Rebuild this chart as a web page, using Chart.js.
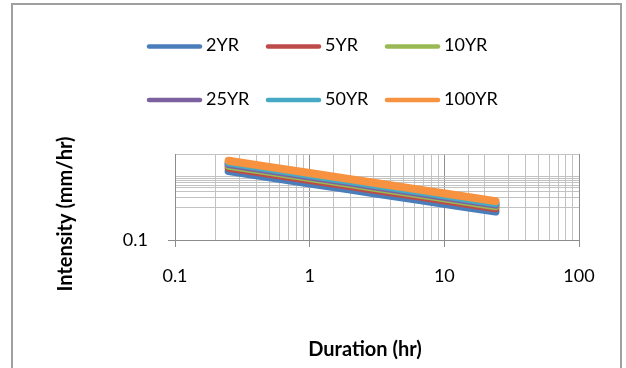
<!DOCTYPE html>
<html>
<head>
<meta charset="utf-8">
<script src="https://cdn.jsdelivr.net/npm/chart.js@4.4.1/dist/chart.umd.min.js"></script>
<style>
  html, body { margin: 0; padding: 0; background: #fff; }
  #wrap { width: 626px; height: 368px; }
</style>
</head>
<body>
<div id="wrap"><canvas id="chart" width="626" height="368"></canvas></div>
<script>
// durations (hr) and intensities (mm/hr)
const durations = [0.25, 0.5, 1, 2, 3, 6, 12, 24];
const seriesNames = ['2YR', '5YR', '10YR', '25YR', '50YR', '100YR'];
const int2yr   = [0.632, 0.536, 0.454, 0.386, 0.350, 0.297, 0.252, 0.214];
const int5yr   = [0.693, 0.588, 0.498, 0.423, 0.384, 0.326, 0.276, 0.234];
const int10yr  = [0.731, 0.620, 0.526, 0.446, 0.405, 0.344, 0.291, 0.247];
const int25yr  = [0.762, 0.646, 0.548, 0.465, 0.422, 0.358, 0.304, 0.258];
const int50yr  = [0.793, 0.672, 0.570, 0.484, 0.439, 0.373, 0.316, 0.268];
const int100yr = [0.836, 0.709, 0.601, 0.510, 0.463, 0.393, 0.333, 0.283];
const xTickLabels = [0.1, 1, 10, 100];
const yTickLabels = [0.1];
// horizontal gridlines as they appear in the original
const yGridValues = [0.1, 0.236, 0.309, 0.368, 0.403, 0.432, 0.461, 0.49, 0.517, 0.541, 1];

const allSeries = [int2yr, int5yr, int10yr, int25yr, int50yr, int100yr];
const colors = ['#4a7ebb', '#be4b48', '#98b954', '#7d60a0', '#46aac5', '#f69240'];

const FONT = 'Lato, "Open Sans", sans-serif';

const isLabelled = (list, v) => list.some(t => Math.abs(t - v) < 1e-9);

// frame, legend and axis titles
const chrome = {
  id: 'chrome',
  beforeDraw(chart) {
    const c = chart.ctx;
    c.save();
    c.fillStyle = '#fff';
    c.fillRect(0, 0, chart.width, chart.height);
    c.strokeStyle = '#a0a0a0';
    c.lineWidth = 2;
    c.strokeRect(12, 4, 609, 400);
    c.restore();
  },
  afterDraw(chart) {
    const c = chart.ctx;
    c.save();
    const colX = [147, 266, 385];
    const rowY = [46.5, 100];
    c.font = '18px ' + FONT;
    c.textBaseline = 'middle';
    c.textAlign = 'left';
    chart.data.datasets.forEach((ds, i) => {
      const x = colX[i % 3];
      const y = rowY[Math.floor(i / 3)];
      c.strokeStyle = ds.borderColor;
      c.lineWidth = 4.5;
      c.lineCap = 'round';
      c.beginPath();
      c.moveTo(x + 2, y);
      c.lineTo(x + 53, y);
      c.stroke();
      c.fillStyle = '#000';
      c.fillText(ds.label, x + 59, y - 1);
    });

    c.font = 'bold 20px ' + FONT;
    c.textAlign = 'center';
    c.fillText('Duration (hr)', 365, 350);
    c.translate(66, 214);
    c.rotate(-Math.PI / 2);
    c.fillText('Intensity (mm/hr)', 0, 0);
    c.restore();
  }
};

const ctx = document.getElementById('chart').getContext('2d');
new Chart(ctx, {
  type: 'line',
  data: {
    datasets: seriesNames.map((name, i) => ({
      label: name,
      data: durations.map((d, j) => ({ x: d, y: allSeries[i][j] })),
      borderColor: colors[i],
      backgroundColor: colors[i],
      borderWidth: 8,
      borderCapStyle: 'round',
      borderJoinStyle: 'round',
      pointRadius: 0,
      tension: 0,
      order: seriesNames.length - i // 100YR drawn on top
    }))
  },
  options: {
    responsive: false,
    animation: false,
    devicePixelRatio: 1,
    layout: { padding: { left: 0, right: 47, top: 154, bottom: 0 } },
    plugins: {
      legend: { display: false },
      tooltip: { enabled: false }
    },
    scales: {
      x: {
        type: 'logarithmic',
        min: 0.1,
        max: 100,
        afterFit: s => { s.height = 128; },
        border: { color: '#8c8c8c', width: 1 },
        grid: {
          tickLength: 7,
          color: c => isLabelled(xTickLabels, c.tick.value) ? '#8e8e8e' : '#c2c2c2',
          tickColor: c => isLabelled(xTickLabels, c.tick.value) ? '#8c8c8c' : 'rgba(0,0,0,0)'
        },
        ticks: {
          autoSkip: false,
          maxRotation: 0,
          padding: 18,
          color: '#000',
          font: { family: FONT, size: 18 },
          callback: v => isLabelled(xTickLabels, v) ? String(v) : ''
        }
      },
      y: {
        type: 'logarithmic',
        min: 0.1,
        max: 1,
        afterFit: s => { s.width = 175; },
        afterBuildTicks: s => { s.ticks = yGridValues.map(v => ({ value: v })); },
        border: { color: '#8c8c8c', width: 1 },
        grid: {
          tickLength: 7,
          color: '#c2c2c2',
          tickColor: c => isLabelled(yTickLabels, c.tick.value) ? '#8c8c8c' : 'rgba(0,0,0,0)'
        },
        ticks: {
          autoSkip: false,
          padding: 20,
          color: '#000',
          font: { family: FONT, size: 18 },
          callback: v => isLabelled(yTickLabels, v) ? String(v) : ''
        }
      }
    }
  },
  plugins: [chrome]
});
</script>
</body>
</html>
